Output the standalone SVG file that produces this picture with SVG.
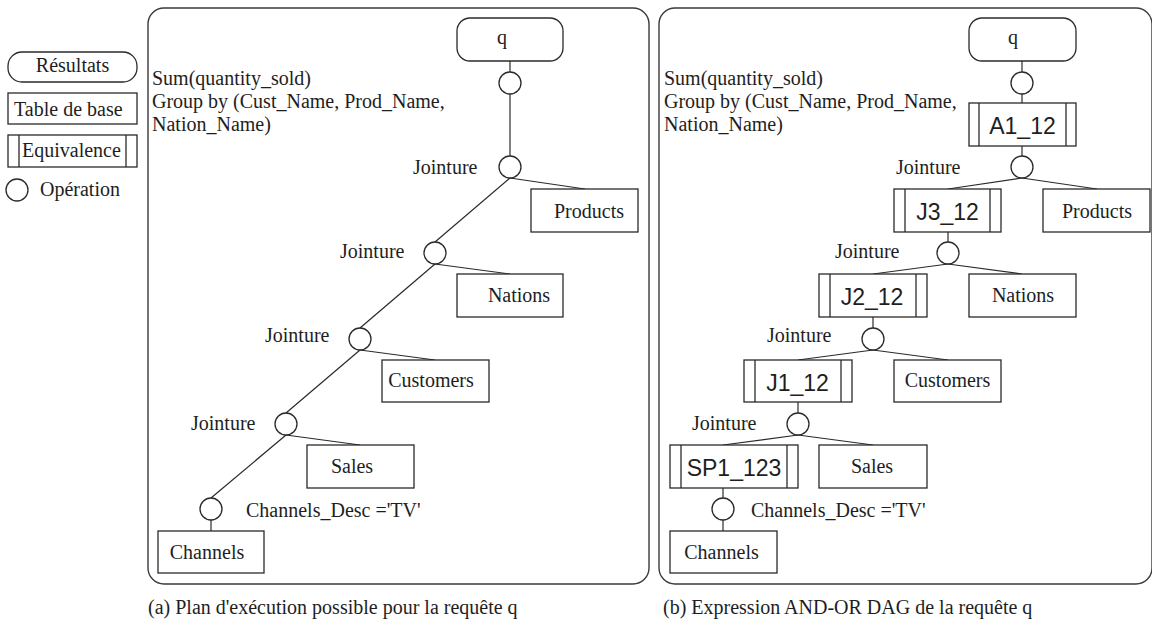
<svg xmlns="http://www.w3.org/2000/svg" width="1152" height="621" viewBox="0 0 1152 621">
  <style>
    .panel { fill: none; stroke: #3a3a3a; stroke-width: 1.4; }
    .box { fill: #ffffff; stroke: #2a2a2a; stroke-width: 1.3; }
    .bar { fill: none; stroke: #2a2a2a; stroke-width: 1.3; }
    .op { fill: #ffffff; stroke: #2a2a2a; stroke-width: 1.3; }
    .edge { fill: none; stroke: #2a2a2a; stroke-width: 1.2; }
    text { fill: #1e1e1e; }
    .m { text-anchor: middle; }
    .eq { text-anchor: middle; }
  </style>

  <g font-family="Liberation Serif, Times New Roman, serif" font-size="20">

  <!-- legend -->
  <g id="legend">
    <rect class="box" x="8" y="52" width="129" height="30" rx="14"/>
    <text class="m" x="72.5" y="72">Résultats</text>
    <rect class="box" x="8" y="93" width="129" height="31"/>
    <text x="14" y="116">Table de base</text>
    <rect class="box" x="8" y="135" width="129" height="32"/>
    <line class="bar" x1="19" y1="135" x2="19" y2="167"/>
    <line class="bar" x1="126" y1="135" x2="126" y2="167"/>
    <text x="22" y="157">Equivalence</text>
    <circle class="op" cx="17" cy="190" r="11"/>
    <text x="40" y="196">Opération</text>
  </g>

  <!-- panel frames -->
  <g id="frames">
    <rect class="panel" x="148" y="8" width="501" height="576" rx="16"/>
    <rect class="panel" x="659" y="8" width="493" height="576" rx="16"/>
  </g>

  <!-- (a) execution plan: connectors -->
  <g id="edges-a">
    <line class="edge" x1="510" y1="61" x2="510" y2="72"/>
    <line class="edge" x1="510" y1="94" x2="510" y2="156"/>
    <line class="edge" x1="510" y1="178" x2="585" y2="189"/>
    <line class="edge" x1="510" y1="178" x2="435" y2="242"/>
    <line class="edge" x1="435" y1="264" x2="510" y2="274"/>
    <line class="edge" x1="435" y1="264" x2="360" y2="328"/>
    <line class="edge" x1="360" y1="350" x2="435" y2="360"/>
    <line class="edge" x1="360" y1="350" x2="286" y2="413"/>
    <line class="edge" x1="286" y1="435" x2="360" y2="445"/>
    <line class="edge" x1="286" y1="435" x2="211" y2="498"/>
    <line class="edge" x1="211" y1="520" x2="211" y2="531"/>
  </g>

  <!-- (a) execution plan: nodes -->
  <g id="a-q">
    <rect class="box" x="457" y="18" width="106" height="43" rx="13"/>
    <text class="m" x="502" y="44">q</text>
  </g>
  <g id="a-agg">
    <circle class="op" cx="510" cy="83" r="11"/>
    <text x="152" y="85">Sum(quantity_sold)</text>
    <text x="152" y="108">Group by (Cust_Name, Prod_Name,</text>
    <text x="152" y="131">Nation_Name)</text>
  </g>
  <g id="a-join1">
    <circle class="op" cx="510" cy="167" r="11"/>
    <text x="413" y="174">Jointure</text>
  </g>
  <g id="a-products">
    <rect class="box" x="531" y="189" width="107" height="43"/>
    <text class="m" x="589" y="218">Products</text>
  </g>
  <g id="a-join2">
    <circle class="op" cx="435" cy="253" r="11"/>
    <text x="340" y="258">Jointure</text>
  </g>
  <g id="a-nations">
    <rect class="box" x="457" y="274" width="106" height="43"/>
    <text class="m" x="519" y="302">Nations</text>
  </g>
  <g id="a-join3">
    <circle class="op" cx="360" cy="339" r="11"/>
    <text x="265" y="342">Jointure</text>
  </g>
  <g id="a-customers">
    <rect class="box" x="382" y="360" width="107" height="42"/>
    <text class="m" x="431" y="387">Customers</text>
  </g>
  <g id="a-join4">
    <circle class="op" cx="286" cy="424" r="11"/>
    <text x="191" y="430">Jointure</text>
  </g>
  <g id="a-sales">
    <rect class="box" x="307" y="445" width="107" height="43"/>
    <text class="m" x="352" y="473">Sales</text>
  </g>
  <g id="a-select">
    <circle class="op" cx="211" cy="509" r="11"/>
    <text x="246" y="517">Channels_Desc ='TV'</text>
  </g>
  <g id="a-channels">
    <rect class="box" x="158" y="531" width="106" height="42"/>
    <text class="m" x="207" y="559">Channels</text>
  </g>
  <text x="148" y="614">(a) Plan d'exécution possible pour la requête q</text>

  <!-- (b) AND-OR DAG: connectors -->
  <g id="edges-b">
    <line class="edge" x1="1022" y1="61" x2="1022" y2="72"/>
    <line class="edge" x1="1022" y1="94" x2="1022" y2="103"/>
    <line class="edge" x1="1022" y1="146" x2="1022" y2="156"/>
    <line class="edge" x1="1022" y1="178" x2="948" y2="189"/>
    <line class="edge" x1="1022" y1="178" x2="1097" y2="189"/>
    <line class="edge" x1="948" y1="232" x2="948" y2="242"/>
    <line class="edge" x1="948" y1="264" x2="873" y2="274"/>
    <line class="edge" x1="948" y1="264" x2="1022" y2="274"/>
    <line class="edge" x1="873" y1="317" x2="873" y2="328"/>
    <line class="edge" x1="873" y1="350" x2="798" y2="360"/>
    <line class="edge" x1="873" y1="350" x2="948" y2="360"/>
    <line class="edge" x1="798" y1="402" x2="798" y2="413"/>
    <line class="edge" x1="798" y1="435" x2="723" y2="445"/>
    <line class="edge" x1="798" y1="435" x2="873" y2="445"/>
    <line class="edge" x1="723" y1="488" x2="723" y2="498"/>
    <line class="edge" x1="723" y1="520" x2="723" y2="531"/>
  </g>

  <!-- (b) AND-OR DAG: nodes -->
  <g id="b-q">
    <rect class="box" x="969" y="18" width="107" height="43" rx="13"/>
    <text class="m" x="1013" y="44">q</text>
  </g>
  <g id="b-agg">
    <circle class="op" cx="1022" cy="83" r="11"/>
    <text x="664" y="85">Sum(quantity_sold)</text>
    <text x="664" y="108">Group by (Cust_Name, Prod_Name,</text>
    <text x="664" y="131">Nation_Name)</text>
  </g>
  <g id="b-a1">
    <rect class="box" x="969" y="103" width="107" height="43"/>
    <line class="bar" x1="979" y1="103" x2="979" y2="146"/>
    <line class="bar" x1="1066" y1="103" x2="1066" y2="146"/>
    <text class="eq" x="1022.5" y="134" font-family="Liberation Sans, Arial, sans-serif" font-size="23">A1_12</text>
  </g>
  <g id="b-join1">
    <circle class="op" cx="1022" cy="167" r="11"/>
    <text x="896" y="174">Jointure</text>
  </g>
  <g id="b-j3">
    <rect class="box" x="894" y="189" width="107" height="43"/>
    <line class="bar" x1="905" y1="189" x2="905" y2="232"/>
    <line class="bar" x1="990" y1="189" x2="990" y2="232"/>
    <text class="eq" x="947.5" y="220" font-family="Liberation Sans, Arial, sans-serif" font-size="23">J3_12</text>
  </g>
  <g id="b-products">
    <rect class="box" x="1043" y="189" width="107" height="43"/>
    <text class="m" x="1097" y="218">Products</text>
  </g>
  <g id="b-join2">
    <circle class="op" cx="948" cy="253" r="11"/>
    <text x="835" y="258">Jointure</text>
  </g>
  <g id="b-j2">
    <rect class="box" x="819" y="274" width="108" height="43"/>
    <line class="bar" x1="830" y1="274" x2="830" y2="317"/>
    <line class="bar" x1="916" y1="274" x2="916" y2="317"/>
    <text class="eq" x="872" y="305" font-family="Liberation Sans, Arial, sans-serif" font-size="23">J2_12</text>
  </g>
  <g id="b-nations">
    <rect class="box" x="969" y="274" width="107" height="43"/>
    <text class="m" x="1023" y="302">Nations</text>
  </g>
  <g id="b-join3">
    <circle class="op" cx="873" cy="339" r="11"/>
    <text x="767" y="342">Jointure</text>
  </g>
  <g id="b-j1">
    <rect class="box" x="744" y="360" width="108" height="42"/>
    <line class="bar" x1="755" y1="360" x2="755" y2="402"/>
    <line class="bar" x1="841" y1="360" x2="841" y2="402"/>
    <text class="eq" x="797.5" y="391" font-family="Liberation Sans, Arial, sans-serif" font-size="23">J1_12</text>
  </g>
  <g id="b-customers">
    <rect class="box" x="894" y="360" width="107" height="42"/>
    <text class="m" x="947.5" y="387">Customers</text>
  </g>
  <g id="b-join4">
    <circle class="op" cx="798" cy="424" r="11"/>
    <text x="692" y="430">Jointure</text>
  </g>
  <g id="b-sp1">
    <rect class="box" x="670" y="445" width="128" height="43"/>
    <line class="bar" x1="681" y1="445" x2="681" y2="488"/>
    <line class="bar" x1="787" y1="445" x2="787" y2="488"/>
    <text class="eq" x="734" y="476" font-family="Liberation Sans, Arial, sans-serif" font-size="23">SP1_123</text>
  </g>
  <g id="b-sales">
    <rect class="box" x="819" y="445" width="108" height="43"/>
    <text class="m" x="872" y="473">Sales</text>
  </g>
  <g id="b-select">
    <circle class="op" cx="723" cy="509" r="11"/>
    <text x="751" y="517">Channels_Desc ='TV'</text>
  </g>
  <g id="b-channels">
    <rect class="box" x="670" y="531" width="107" height="42"/>
    <text class="m" x="721.5" y="559">Channels</text>
  </g>
  <text x="663" y="614">(b) Expression AND-OR DAG de la requête q</text>

  </g>
</svg>
